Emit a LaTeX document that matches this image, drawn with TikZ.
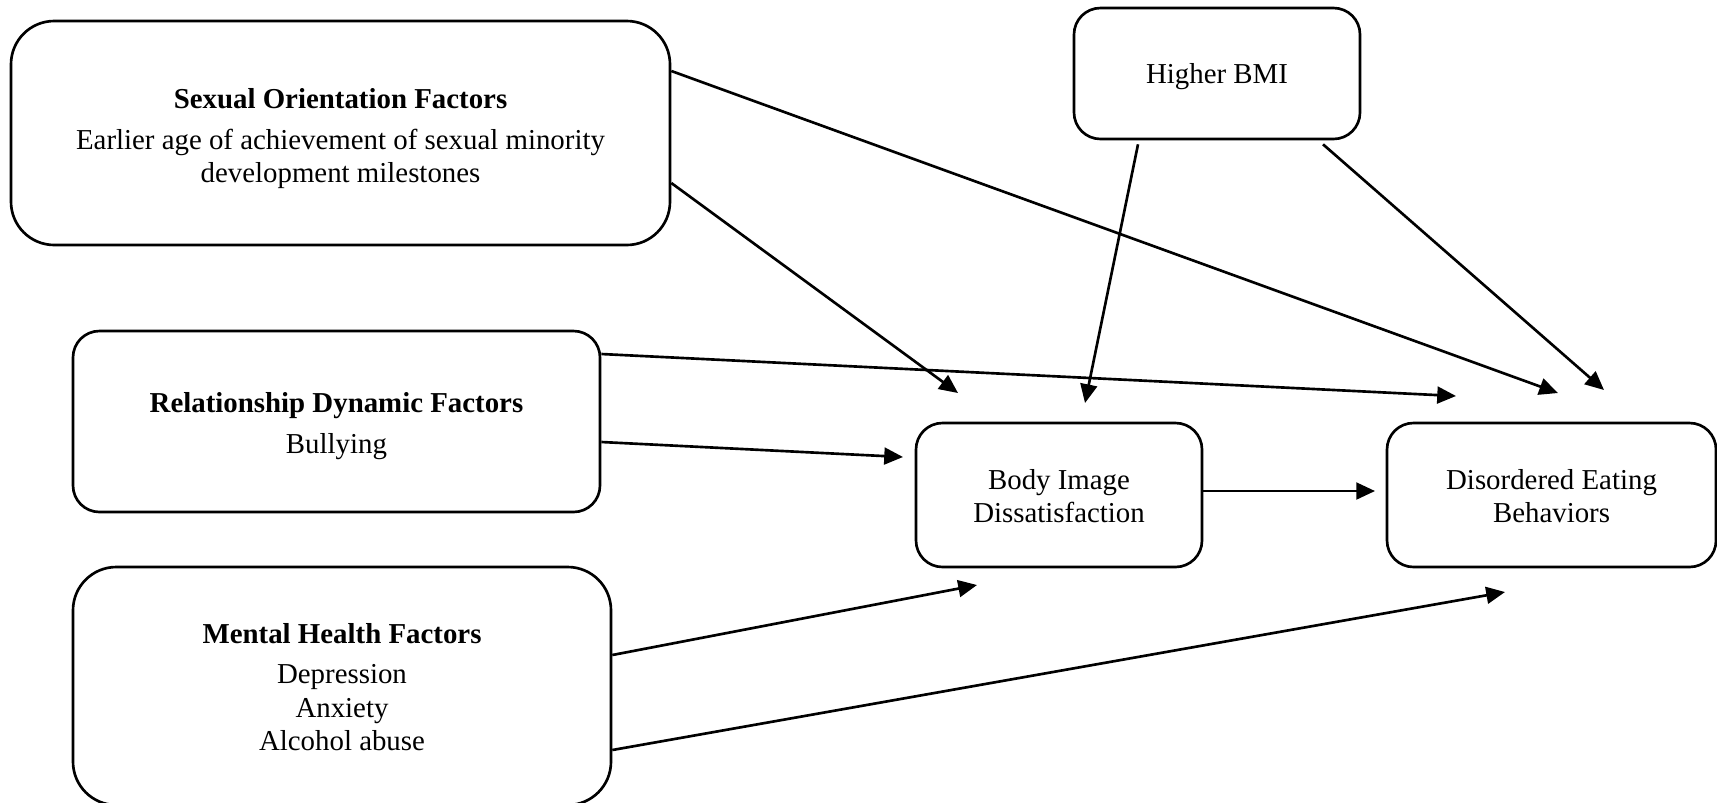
\documentclass[tikz,border=0pt]{standalone}
\usepackage{fontspec}
\setmainfont{Liberation Serif}
\usetikzlibrary{arrows.meta,calc}

% one drawing unit
\newcommand\pxu{0.4158pt}

\tikzset{
  factor/.style={draw, line width=1.1pt, rectangle, inner sep=0pt},
  biground/.style={factor, rounded corners=18pt},
  smallround/.style={factor, rounded corners=11pt},
  boxsize/.style 2 args={minimum width={#1*\pxu}, minimum height={#2*\pxu}},
  boxtext/.style={inner sep=0pt, align=center, font=\fontsize{12pt}{13.8pt}\selectfont},
  arr/.style={line width=1.1pt, -{Triangle[length=7.8pt,width=7pt]}}
}

\begin{document}
\begin{tikzpicture}[x=\pxu, y=-\pxu]
\useasboundingbox (0,0) rectangle (1717,802);

% factor boxes
\node[biground, boxsize={659}{224}] (so) at (340.5,133) {};
\node[smallround, boxsize={286}{131}] (bmi) at (1217,73.5) {};
\node[smallround, boxsize={527}{181}] (rd) at (336.5,421.5) {};
\node[biground, boxsize={538}{238}] (mh) at (342,686) {};

% outcome boxes
\node[smallround, boxsize={286}{144}] (bid) at (1059,495) {};
\node[smallround, boxsize={329}{144}] (deb) at (1551.5,495) {};

% box contents
\node[boxtext] (sotext) at ($(so.center)+(0,5.5)$)
  {\textbf{Sexual Orientation Factors}\\[3pt]
   Earlier age of achievement of sexual minority\\ development milestones};
\node[boxtext] (bmitext) at ($(bmi.center)+(0,3.3)$) {Higher BMI};
\node[boxtext] (rdtext) at ($(rd.center)+(0,4.4)$)
  {\textbf{Relationship Dynamic Factors}\\[3pt] Bullying};
\node[boxtext] (mhtext) at ($(mh.center)+(0,1)$)
  {\textbf{Mental Health Factors}\\[3pt] Depression\\ Anxiety\\ Alcohol abuse};
\node[boxtext] (bidtext) at ($(bid.center)+(0,1)$) {Body Image\\ Dissatisfaction};
\node[boxtext] (debtext) at ($(deb.center)+(0,1)$) {Disordered Eating\\ Behaviors};

% arrow tips, stopping short of the target boxes
\coordinate (bidA) at (958,393);
\coordinate (bidB) at (1085,403);
\coordinate (bidC) at (903,457);
\coordinate (bidD) at (977,585);
\coordinate (debA) at (1558,393);
\coordinate (debB) at (1604,390);
\coordinate (debC) at (1456,396);
\coordinate (debD) at (1375,491);
\coordinate (debE) at (1505,592);

% paths
\draw[arr] ($(so.east)+(0,-62)$) -- (debA);
\draw[arr] ($(so.east)+(0,50)$) -- (bidA);
\draw[arr] ($(bmi.south)+(-79,4)$) -- (bidB);
\draw[arr] ($(bmi.south)+(106,4)$) -- (debB);
\draw[arr] ($(rd.east)+(0,-67.5)$) -- (debC);
\draw[arr] ($(rd.east)+(0,20.5)$) -- (bidC);
\draw[arr] ($(bid.east)+(0,-4)$) -- (debD);
\draw[arr] ($(mh.east)+(0,-31)$) -- (bidD);
\draw[arr] ($(mh.east)+(0,64)$) -- (debE);
\end{tikzpicture}
\end{document}
